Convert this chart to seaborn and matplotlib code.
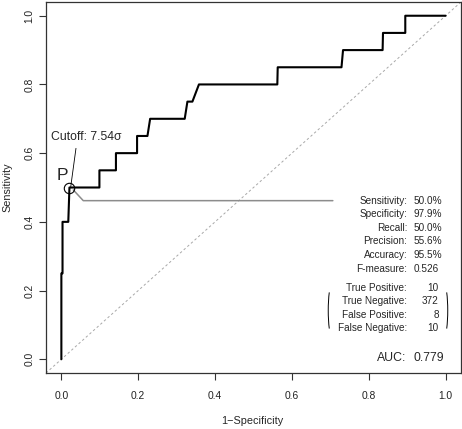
import matplotlib
matplotlib.use("Agg")
import matplotlib.pyplot as plt
from matplotlib.patches import Arc
import pandas as pd
import seaborn as sns

# ROC curve
fpr = [0.0, 0.0, 0.003, 0.003, 0.018, 0.021, 0.099, 0.099, 0.142, 0.142,
       0.197, 0.197, 0.224, 0.231, 0.321, 0.328, 0.341, 0.358, 0.562, 0.563,
       0.729, 0.733, 0.836, 0.837, 0.895, 0.895, 1.0]
tpr = [0.0, 0.25, 0.25, 0.40, 0.40, 0.50, 0.50, 0.55, 0.55, 0.60,
       0.60, 0.65, 0.65, 0.70, 0.70, 0.75, 0.75, 0.80, 0.80, 0.85,
       0.85, 0.90, 0.90, 0.95, 0.95, 1.0, 1.0]

cutoff_point = (0.021, 0.5)
cutoff_label = "Cutoff: 7.54σ"

metric_names = ["Sensitivity:", "Specificity:", "Recall:", "Precision:", "Accuracy:", "F-measure:"]
metric_values = ["50.0%", "97.9%", "50.0%", "55.6%", "95.5%", "0.526"]

conf_names = ["True Positive:", "True Negative:", "False Positive:", "False Negative:"]
conf_values = [10, 372, 8, 10]

auc_value = 0.779
ticks = [0.0, 0.2, 0.4, 0.6, 0.8, 1.0]

sns.set_style("white")
plt.rcParams["font.family"] = ["Liberation Sans", "DejaVu Sans"]

fig = plt.figure(figsize=(4.62, 4.29), dpi=100)
ax = fig.add_axes([46 / 462, 56 / 429, 415 / 462, 371 / 429])

roc = pd.DataFrame({"fpr": fpr, "tpr": tpr})
ax.axline((0, 0), (1, 1), color="#a8a8a8", lw=0.7, ls=(0, (2.5, 2.5)), zorder=1)
sns.lineplot(data=roc, x="fpr", y="tpr", sort=False, estimator=None,
             color="black", lw=1.5, ax=ax, zorder=3)

# cutoff marker and annotations
px, py = cutoff_point
ax.plot([px], [py], marker="o", ms=7.5, mfc="none", mec="black", mew=0.8, zorder=4)
ax.text(px - 0.019, py + 0.036, "P", fontsize=12.5, ha="center", va="center")
ax.plot([px + 0.0034, 0.038], [py + 0.0025, 0.614], color="black", lw=0.6)
ax.text(-0.0275, 0.648, cutoff_label, fontsize=8.8, ha="left", va="center")

row_y0 = 0.4617
row_dy = 0.0396
ax.plot([px + 0.010, 0.057, 0.7065], [py - 0.007, row_y0, row_y0],
        color="#8c8c8c", lw=1.1, zorder=2)

for i, (name, val) in enumerate(zip(metric_names, metric_values)):
    y = row_y0 - i * row_dy
    ax.text(0.9005, y, name, fontsize=7.2, ha="right", va="center")
    ax.text(0.916, y, val, fontsize=7.2, ha="left", va="center")

conf_y0 = 0.2084
for i, (name, val) in enumerate(zip(conf_names, conf_values)):
    y = conf_y0 - i * row_dy
    ax.text(0.899, y, name, fontsize=7.2, ha="right", va="center")
    ax.text(0.982, y, str(val), fontsize=7.2, ha="right", va="center")

# brackets around the confusion counts
ax.add_patch(Arc((0.7065, 0.142), 0.024, 0.166, theta1=100, theta2=260,
                 color="black", lw=0.7))
ax.add_patch(Arc((0.9935, 0.142), 0.024, 0.166, theta1=-80, theta2=80,
                 color="black", lw=0.7))

ax.text(0.898, 0.005, "AUC:", fontsize=8.8, ha="right", va="center")
ax.text(0.916, 0.005, f"{auc_value:.3f}", fontsize=8.8, ha="left", va="center")

ax.set_xlim(-0.04, 1.04)
ax.set_ylim(-0.04, 1.04)
ax.set_xticks(ticks)
ax.set_yticks(ticks)
ax.set_xticklabels([f"{t:.1f}" for t in ticks])
ax.set_yticklabels([f"{t:.1f}" for t in ticks], rotation=90, va="center")
ax.tick_params(axis="both", length=5, width=0.8, color="#333333",
               labelsize=7.4, labelcolor="#222222", pad=8, bottom=True, left=True)
ax.tick_params(axis="y", pad=3.5)
for sp in ax.spines.values():
    sp.set_color("#333333")
    sp.set_linewidth(0.9)

ax.set_xlabel("1\u2212Specificity", fontsize=7.8)
ax.set_ylabel("Sensitivity", fontsize=7.8)
ax.xaxis.set_label_coords(0.497, -0.116)
ax.yaxis.set_label_coords(-0.082, 0.5)

fig.savefig("out.png", dpi=100)
